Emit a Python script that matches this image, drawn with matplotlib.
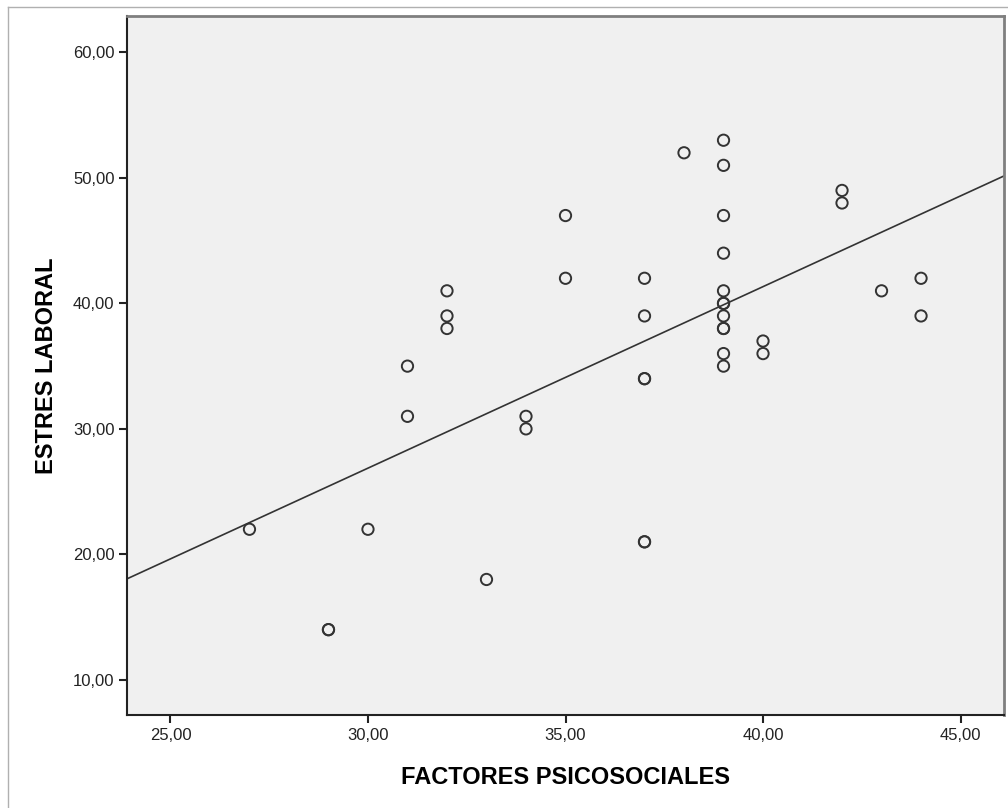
import numpy as np
import matplotlib
matplotlib.use("Agg")
import matplotlib.pyplot as plt
from matplotlib.ticker import FuncFormatter
from matplotlib.lines import Line2D

plt.rcParams['font.family'] = ['Liberation Sans', 'DejaVu Sans']

# FACTORES PSICOSOCIALES vs ESTRES LABORAL
factores = [27, 29, 29, 30, 31, 31, 32, 32, 32, 33, 34, 34, 35, 35,
            37, 37, 37, 37, 37, 37, 38,
            39, 39, 39, 39, 39, 39, 39, 39, 39, 39, 39, 39,
            40, 40, 42, 42, 43, 44, 44]
estres = [22, 14, 14, 22, 35, 31, 41, 39, 38, 18, 31, 30, 47, 42,
          42, 39, 34, 34, 21, 21, 52,
          53, 51, 47, 44, 41, 40, 40, 39, 38, 38, 36, 35,
          37, 36, 49, 48, 41, 42, 39]

x = np.array(factores, dtype=float)
y = np.array(estres, dtype=float)

W, H = 1008, 808
fig = plt.figure(figsize=(W / 100, H / 100), dpi=100)
ax = fig.add_axes([127 / W, (H - 715) / H, (1004 - 127) / W, (715 - 16) / H])
ax.set_facecolor('#f0f0f0')

ax.scatter(x, y, s=66, facecolors='none', edgecolors='#333333', linewidths=1.4, zorder=3)

# linear fit line
slope, intercept = np.polyfit(x, y, 1)
xl = np.array([23.9, 46.1])
ax.plot(xl, slope * xl + intercept, color='#333333', lw=1.2, zorder=2)

ax.set_xlim(23.9, 46.1)
ax.set_ylim(7.2, 62.9)
ax.set_xticks([25, 30, 35, 40, 45])
ax.set_yticks([10, 20, 30, 40, 50, 60])
fmt = FuncFormatter(lambda v, p: f"{v:.2f}".replace('.', ','))
ax.xaxis.set_major_formatter(fmt)
ax.yaxis.set_major_formatter(fmt)
ax.tick_params(direction='out', length=6, width=1.5, color='#222222',
               labelsize=12, labelcolor='#222222', pad=3)

for s in ['left', 'bottom']:
    ax.spines[s].set_color('#222222')
    ax.spines[s].set_linewidth(1.5)
for s in ['top', 'right']:
    ax.spines[s].set_color('#7f7f7f')
    ax.spines[s].set_linewidth(2)

ax.set_xlabel('FACTORES PSICOSOCIALES', fontsize=17, fontweight='bold', labelpad=17)
ax.set_ylabel('ESTRES LABORAL', fontsize=17, fontweight='bold', labelpad=11)

# outer frame
fig.add_artist(Line2D([8 / W, 8 / W], [0, 1 - 7 / H], transform=fig.transFigure,
                      color='#b0b0b0', lw=1))
fig.add_artist(Line2D([8 / W, 1], [1 - 7 / H, 1 - 7 / H], transform=fig.transFigure,
                      color='#b0b0b0', lw=1))

fig.savefig('out.png', dpi=100)
